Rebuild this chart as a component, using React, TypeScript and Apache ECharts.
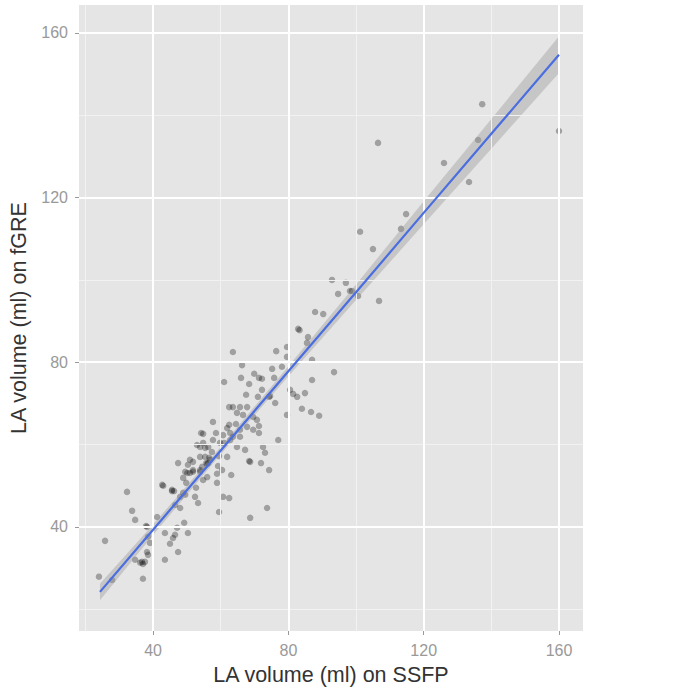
import React, { useEffect, useRef } from "react";
import * as echarts from "echarts";

// Scatter data: LA volume (ml) on SSFP (x) vs on fGRE (y)
const ssfp = [
  137.3, 160.0, 106.5, 136.1, 126.0, 133.4, 114.8, 113.3, 101.2, 105.0, 92.9, 97.0, 94.7, 98.2, 98.8, 100.6, 106.8,
  87.9, 90.3, 82.9, 83.3, 85.5, 85.8, 63.6, 76.4, 79.6, 79.6, 87.0, 66.3, 78.1, 75.2, 93.5, 69.9, 72.2, 71.3, 75.8, 66.0,
  68.4, 61.0, 87.0, 80.5, 81.4, 82.6, 74.3, 74.6, 84.9, 71.0, 76.1, 62.5, 63.6, 65.7, 67.8, 84.0, 86.7, 89.1, 79.6, 64.8,
  66.6, 69.6, 70.7, 57.7, 62.5, 64.5, 61.9, 67.8, 69.6, 71.3, 58.6, 54.8, 60.7, 62.8, 63.6, 65.7, 71.3, 57.7, 77.0, 54.8,
  56.3, 59.8, 61.0, 64.8, 72.5, 73.1, 53.9, 55.4, 56.6, 59.5, 61.9, 68.4, 71.9, 56.3, 56.0, 54.5, 59.2, 63.1, 74.3, 56.0,
  54.8, 58.9, 60.7, 62.5, 59.5, 73.7, 68.7,
  54.2, 53.0, 53.9, 50.9, 51.8, 50.3, 47.4, 49.5, 50.9, 53.9, 43.0, 46.2, 32.3, 48.9, 52.4, 53.3, 46.5, 48.0, 33.8, 34.7,
  41.2, 38.2, 47.1, 49.2, 43.5, 46.5, 45.9, 38.5, 39.1, 25.8, 50.3, 45.0, 47.4, 38.2, 38.5, 36.7, 36.2, 37.0, 34.7, 43.5,
  24.0, 27.9, 37.0,
  37.9, 42.7, 45.6, 48.0, 49.5, 50.1, 51.8, 58.9, 68.7, 37.6,
  55.7, 56.9, 53.9, 57.4, 55.4, 51.8, 48.9, 45.6, 49.8, 52.7, 60.4, 62.8, 65.7, 67.5, 72.2, 67.2,
];
const fgre = [
  142.7, 136.2, 133.3, 134.0, 128.4, 123.8, 116.0, 112.4, 111.7, 107.5, 100.0, 99.3, 96.6, 97.3, 97.3, 96.1, 94.9,
  92.2, 91.7, 88.1, 87.8, 84.7, 86.1, 82.5, 82.7, 83.7, 81.3, 80.6, 79.3, 78.9, 78.4, 77.6, 77.2, 76.0, 76.2, 76.2, 76.2,
  74.7, 75.2, 75.7, 73.3, 72.3, 71.6, 71.6, 71.8, 72.5, 71.6, 70.1, 69.1, 69.1, 69.1, 69.1, 68.7, 67.9, 67.0, 67.2, 67.7,
  67.2, 66.7, 66.0, 65.5, 64.8, 65.0, 64.0, 64.3, 63.6, 64.5, 62.8, 62.6, 62.3, 62.8, 61.9, 61.9, 62.8, 61.1, 61.1, 60.4,
  59.4, 60.4, 60.4, 59.4, 59.4, 58.0, 57.0, 57.0, 56.8, 57.2, 57.0, 56.0, 55.5, 55.5, 55.3, 54.6, 54.8, 52.6, 53.8, 52.1,
  51.4, 50.7, 47.3, 47.0, 43.6, 44.6, 42.2,
  62.8, 59.9, 59.4, 56.3, 55.8, 55.1, 55.5, 53.4, 53.1, 53.4, 50.0, 48.7, 48.5, 48.3, 47.3, 45.8, 45.3, 44.6, 43.9, 41.7,
  42.4, 40.0, 39.8, 41.0, 38.5, 38.1, 37.3, 37.6, 36.1, 36.6, 38.5, 35.9, 33.9, 33.9, 33.2, 31.5, 31.3, 31.0, 32.0, 32.0,
  27.9, 27.1, 27.4,
  40.2, 50.2, 48.7, 47.3, 47.8, 53.1, 53.4, 52.9, 55.8, 31.5,
  55.5, 56.3, 53.8, 58.2, 59.2, 53.8, 51.9, 49.0, 50.7, 49.5, 53.8, 61.1, 63.6, 72.1, 73.3, 58.7,
];

// Linear fit and its confidence band
const fitX = [24.3, 40, 60, 80, 100, 120, 140, 160];
const fitY = [24.2, 39.3, 58.55, 77.8, 97.0, 116.3, 135.5, 154.7];
const fitLower = [22.2, 38.0, 57.65, 76.6, 95.1, 113.5, 131.9, 150.3];
const fitUpper = [26.2, 40.6, 59.45, 79.0, 98.9, 119.1, 139.1, 159.2];

// Axis ticks
const xMajorTicks = [40, 80, 120, 160];
const yMajorTicks = [40, 80, 120, 160];
const xMinorTicks = [20, 60, 100, 140];
const yMinorTicks = [20, 60, 100, 140];

const X_MIN = 18.1;
const X_MAX = 167.1;
const Y_MIN = 14.7;
const Y_MAX = 166.8;

export default function App() {
  const ref = useRef<HTMLDivElement>(null);

  useEffect(() => {
    if (!ref.current) return;
    const chart = echarts.init(ref.current, null, { renderer: "svg" });

    const tickLabelStyle = {
      color: "#999999",
      fontSize: 16,
      fontFamily: "Liberation Sans, Arial, sans-serif",
    };
    const titleStyle = {
      color: "#333333",
      fontSize: 21.5,
      fontFamily: "Liberation Sans, Arial, sans-serif",
    };

    const gridLineSeries = (values: number[], axis: "xAxis" | "yAxis", color: string, width: number, z: number) => ({
      type: "scatter",
      data: [],
      silent: true,
      z,
      markLine: {
        silent: true,
        symbol: ["none", "none"],
        label: { show: false },
        lineStyle: { color, width, type: "solid" },
        emphasis: { disabled: true },
        data: values.map((v) => ({ [axis]: v })),
      },
    });

    const option = {
      animation: false,
      backgroundColor: "#ffffff",
      grid: {
        left: 79,
        top: 5,
        width: 504,
        height: 626,
        show: true,
        backgroundColor: "#E5E5E5",
        borderWidth: 0,
      },
      xAxis: {
        type: "value",
        min: X_MIN,
        max: X_MAX,
        name: "LA volume (ml) on SSFP",
        nameLocation: "middle",
        nameGap: 33,
        nameTextStyle: titleStyle,
        axisLine: { show: false },
        splitLine: { show: false },
        axisTick: {
          show: true,
          length: 4,
          customValues: xMajorTicks,
          lineStyle: { color: "#999999", width: 1 },
        },
        axisLabel: { ...tickLabelStyle, margin: 11, customValues: xMajorTicks },
      },
      yAxis: {
        type: "value",
        min: Y_MIN,
        max: Y_MAX,
        name: "LA volume (ml) on fGRE",
        nameLocation: "middle",
        nameGap: 38,
        nameTextStyle: titleStyle,
        axisLine: { show: false },
        splitLine: { show: false },
        axisTick: {
          show: true,
          length: 4,
          customValues: yMajorTicks,
          lineStyle: { color: "#999999", width: 1 },
        },
        axisLabel: { ...tickLabelStyle, margin: 11, customValues: yMajorTicks },
      },
      series: [
        gridLineSeries(xMinorTicks, "xAxis", "#F2F2F2", 1, 1),
        gridLineSeries(yMinorTicks, "yAxis", "#F2F2F2", 1, 1),
        gridLineSeries(xMajorTicks, "xAxis", "#FFFFFF", 2, 1),
        gridLineSeries(yMajorTicks, "yAxis", "#FFFFFF", 2, 1),
        {
          type: "scatter",
          z: 3,
          symbol: "circle",
          symbolSize: 6.5,
          itemStyle: { color: "#000000", opacity: 0.3 },
          emphasis: { disabled: true },
          data: ssfp.map((x, i) => [x, fgre[i]]),
        },
        {
          type: "custom",
          z: 4,
          silent: true,
          data: [0],
          renderItem: (_params: any, api: any) => {
            const upper = fitX.map((x, i) => api.coord([x, fitUpper[i]]));
            const lower = fitX.map((x, i) => api.coord([x, fitLower[i]])).reverse();
            return {
              type: "polygon",
              shape: { points: upper.concat(lower) },
              style: { fill: "rgba(153,153,153,0.4)", stroke: "none" },
            };
          },
        },
        {
          type: "line",
          z: 5,
          symbol: "none",
          silent: true,
          lineStyle: { color: "#4A6EE0", width: 2.2 },
          data: fitX.map((x, i) => [x, fitY[i]]),
        },
      ],
    };

    chart.setOption(option as any);
    return () => chart.dispose();
  }, []);

  return (
    <div
      ref={ref}
      style={{ position: "absolute", left: 0, top: 0, width: 685, height: 696, background: "#fff" }}
    />
  );
}
